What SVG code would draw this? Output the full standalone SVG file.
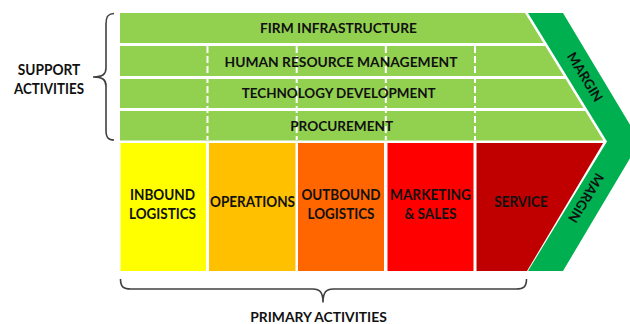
<svg xmlns="http://www.w3.org/2000/svg" width="630" height="324" viewBox="0 0 630 324">
<style>
.t{font-family:Lato,"Open Sans","Liberation Sans",sans-serif;font-weight:bold;fill:#111;text-anchor:middle}
.s{font-size:13px}
.p{font-size:15px}
.dash{stroke:#fff;stroke-width:2;stroke-dasharray:7 3;fill:none}
.brace{fill:none;stroke:#404040;stroke-width:1.6}
</style>
<defs>
<clipPath id="chev"><polygon points="120,13 525,13 604,141.5 527,271 120,271"/></clipPath>
</defs>
<rect width="630" height="324" fill="#fff"/>
<g id="margin-band">
<polygon points="528,13 563,13 640,141.5 563,271 528,271 607,141.5" fill="#00B050"/>
<text class="t" font-size="13.5" transform="translate(585,77) rotate(58.5)" dy="4.8">MARGIN</text>
<text class="t" font-size="13.5" transform="translate(586,198) rotate(121.5)" dy="4.8">MARGIN</text>
</g>
<g clip-path="url(#chev)">
<g id="firm-infrastructure"><rect x="120" y="13" width="520" height="30" fill="#92D050"/></g>
<g id="hrm"><rect x="120" y="46" width="520" height="30" fill="#92D050"/></g>
<g id="tech"><rect x="120" y="79" width="520" height="29" fill="#92D050"/></g>
<g id="procurement"><rect x="120" y="111" width="520" height="29.5" fill="#92D050"/></g>
<g id="inbound"><rect x="120.5" y="143" width="85.5" height="128" fill="#FFFF00"/></g>
<g id="operations"><rect x="209" y="143" width="86.5" height="128" fill="#FFC000"/></g>
<g id="outbound"><rect x="298" y="143" width="86" height="128" fill="#FF6600"/></g>
<g id="marketing"><rect x="387.5" y="143" width="86" height="128" fill="#FF0000"/></g>
<g id="service"><rect x="476.5" y="143" width="170" height="128" fill="#C00000"/></g>
<line class="dash" x1="207.5" y1="46" x2="207.5" y2="140"/>
<line class="dash" x1="296.7" y1="46" x2="296.7" y2="140"/>
<line class="dash" x1="385.8" y1="46" x2="385.8" y2="140"/>
<line class="dash" x1="475" y1="46" x2="475" y2="140"/>
</g>
<g id="labels">
<text class="t s" x="338.5" y="33" textLength="157" lengthAdjust="spacingAndGlyphs">FIRM INFRASTRUCTURE</text>
<text class="t s" x="341" y="66.5" textLength="233" lengthAdjust="spacingAndGlyphs">HUMAN RESOURCE MANAGEMENT</text>
<text class="t s" x="338.7" y="98.2" textLength="194" lengthAdjust="spacingAndGlyphs">TECHNOLOGY DEVELOPMENT</text>
<text class="t s" x="341.7" y="130.6" textLength="103" lengthAdjust="spacingAndGlyphs">PROCUREMENT</text>
<text class="t p" x="162.5" y="200" textLength="65" lengthAdjust="spacingAndGlyphs">INBOUND</text>
<text class="t p" x="162.5" y="219.3" textLength="67" lengthAdjust="spacingAndGlyphs">LOGISTICS</text>
<text class="t p" x="252.5" y="207.3" textLength="85" lengthAdjust="spacingAndGlyphs">OPERATIONS</text>
<text class="t p" x="341" y="200" textLength="79" lengthAdjust="spacingAndGlyphs">OUTBOUND</text>
<text class="t p" x="341" y="219.3" textLength="67" lengthAdjust="spacingAndGlyphs">LOGISTICS</text>
<text class="t p" x="430.5" y="200" textLength="81" lengthAdjust="spacingAndGlyphs">MARKETING</text>
<text class="t p" x="430.5" y="219.3" textLength="52" lengthAdjust="spacingAndGlyphs">&amp; SALES</text>
<text class="t p" x="521" y="206.7" textLength="53.5" lengthAdjust="spacingAndGlyphs">SERVICE</text>
<text class="t p" x="49" y="75" textLength="62.5" lengthAdjust="spacingAndGlyphs" fill="#262626">SUPPORT</text>
<text class="t p" x="49" y="94" textLength="70" lengthAdjust="spacingAndGlyphs" fill="#262626">ACTIVITIES</text>
<text class="t" font-size="13.5" x="318.5" y="321.5" textLength="136.5" lengthAdjust="spacingAndGlyphs" fill="#262626">PRIMARY ACTIVITIES</text>
</g>
<g id="braces">
<path class="brace" d="M114,13.5 C108.5,13.5 106,16 106,24 L106,68 C106,74 103,77 93,77 C103,77 106,80 106,86 L106,130 C106,138 108.5,140 114,140"/>
<path class="brace" d="M120.5,279 C120.5,286.5 123,289 131,289 L313,289 C319.5,289 323,292 323,302.5 C323,292 326.5,289 333,289 L516,289 C524,289 526.5,286.5 526.5,279"/>
</g>
</svg>
